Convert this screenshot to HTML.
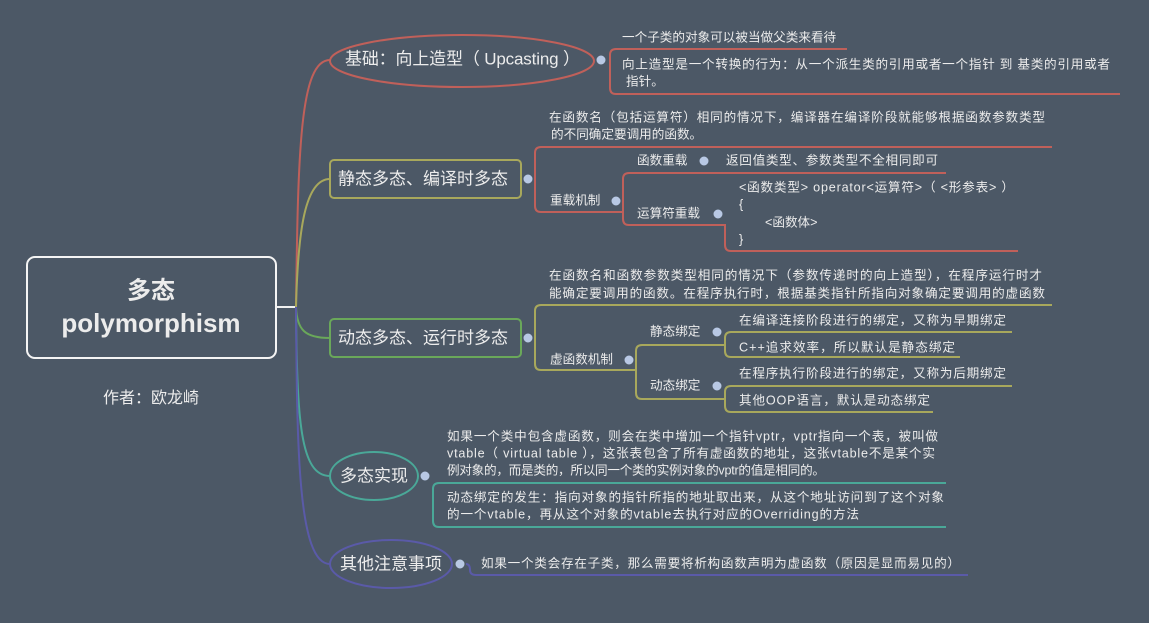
<!DOCTYPE html>
<html><head><meta charset="utf-8"><style>
html,body{margin:0;padding:0;background:#4c5866;}
svg{display:block}
text{font-family:"Liberation Sans","Noto Sans CJK SC",sans-serif;fill:#ececec;dominant-baseline:middle}
.s{font-size:12.6px}
.b{font-size:17px}
</style></head><body>
<svg width="1149" height="623" viewBox="0 0 1149 623" xmlns="http://www.w3.org/2000/svg">
<rect width="1149" height="623" fill="#4c5866"/>
<g fill="none" stroke-width="2">
<path d="M276,307 H296" stroke="#f0f0f0"/>
<path d="M296,307 C298,150 300,60 330,60" stroke="#c0605a"/>
<path d="M296,307 C298,230 305,179 330,179" stroke="#a8a85c"/>
<path d="M296,307 C297,330 305,338 330,338" stroke="#6aa85a"/>
<path d="M296,307 C297,420 300,476 330,476" stroke="#4aa898"/>
<path d="M296,307 C297,450 298,564 330,564" stroke="#5a5aa8"/>
<ellipse cx="462" cy="61" rx="132" ry="26" stroke="#c0605a"/>
<path d="M847,49 H616 Q610,49 610,55 V88 Q610,94 616,94 H1120" stroke="#c0605a"/>
<rect x="330" y="160" width="191" height="38" rx="4" stroke="#a8a85c"/>
<path d="M1052,147 H541 Q535,147 535,153 V206 Q535,212 541,212 H623" stroke="#c0605a"/>
<path d="M946,173 H629 Q623,173 623,179 V219 Q623,225 629,225 H725 V245 Q725,251 731,251 H1018" stroke="#c0605a"/>
<rect x="330" y="319" width="191" height="38" rx="4" stroke="#6aa85a"/>
<path d="M1052,305 H541 Q535,305 535,311 V364 Q535,370 541,370 H636" stroke="#a8a85c"/>
<path d="M725,345 H642 Q636,345 636,351 V393 Q636,399 642,399 H725" stroke="#a8a85c"/>
<path d="M1012,332 H731 Q725,332 725,338 V351 Q725,357 731,357 H960" stroke="#a8a85c"/>
<path d="M1012,386 H731 Q725,386 725,392 V406 Q725,412 731,412 H933" stroke="#a8a85c"/>
<ellipse cx="374" cy="476" rx="44" ry="24" stroke="#4aa898"/>
<path d="M946,483 H439 Q433,483 433,489 V521 Q433,527 439,527 H946" stroke="#4aa898"/>
<ellipse cx="391" cy="564" rx="61" ry="24" stroke="#5a5aa8"/>
<path d="M466,564 Q470,564 470,570 Q470,575 476,575 H968" stroke="#5a5aa8"/>
</g>
<rect x="27" y="257" width="249" height="101" rx="8" fill="#4c5866" stroke="#f4f4f4" stroke-width="2"/>
<text x="151" y="292" text-anchor="middle" style="font-size:24px;font-weight:bold">多态</text>
<text x="151" y="325" text-anchor="middle" style="font-size:26px;font-weight:bold">polymorphism</text>
<text x="151" y="399" text-anchor="middle" style="font-size:16px">作者：欧龙崎</text>
<g fill="#b8c8e4" stroke="#4c5866" stroke-width="1">
<circle cx="601" cy="60" r="5"/><circle cx="528" cy="179" r="5"/><circle cx="616" cy="201" r="5"/>
<circle cx="704" cy="161" r="5"/><circle cx="718" cy="214" r="5"/><circle cx="528" cy="338" r="5"/>
<circle cx="629" cy="360" r="5"/><circle cx="717" cy="332" r="5"/><circle cx="717" cy="386" r="5"/>
<circle cx="425" cy="476" r="5"/><circle cx="460" cy="564" r="5"/>
</g>
<text class="b" x="345" y="60" textLength="235" lengthAdjust="spacing">基础：向上造型（ Upcasting ）</text>
<text class="b" x="338" y="180">静态多态、编译时多态</text>
<text class="b" x="338" y="339">动态多态、运行时多态</text>
<text class="b" x="340" y="477">多态实现</text>
<text class="b" x="340" y="565">其他注意事项</text>
<text class="s" x="622" y="38">一个子类的对象可以被当做父类来看待</text>
<text class="s" x="622" y="65" textLength="488" lengthAdjust="spacing">向上造型是一个转换的行为：从一个派生类的引用或者一个指针 到 基类的引用或者</text>
<text class="s" x="626" y="82">指针。</text>
<text class="s" x="549" y="118" textLength="496" lengthAdjust="spacing">在函数名（包括运算符）相同的情况下，编译器在编译阶段就能够根据函数参数类型</text>
<text class="s" x="551" y="135">的不同确定要调用的函数。</text>
<text class="s" x="550" y="201">重载机制</text>
<text class="s" x="637" y="161">函数重载</text>
<text class="s" x="726" y="161" textLength="212" lengthAdjust="spacing">返回值类型、参数类型不全相同即可</text>
<text class="s" x="637" y="214">运算符重载</text>
<text class="s" x="739" y="188" textLength="275" lengthAdjust="spacing">&lt;函数类型&gt; operator&lt;运算符&gt;（ &lt;形参表&gt; ）</text>
<text class="s" x="739" y="205">{</text>
<text class="s" x="765" y="223">&lt;函数体&gt;</text>
<text class="s" x="739" y="240">}</text>
<text class="s" x="549" y="276" textLength="493" lengthAdjust="spacing">在函数名和函数参数类型相同的情况下（参数传递时的向上造型），在程序运行时才</text>
<text class="s" x="549" y="294" textLength="496" lengthAdjust="spacing">能确定要调用的函数。在程序执行时，根据基类指针所指向对象确定要调用的虚函数</text>
<text class="s" x="550" y="360">虚函数机制</text>
<text class="s" x="650" y="332">静态绑定</text>
<text class="s" x="650" y="386">动态绑定</text>
<text class="s" x="739" y="321" textLength="267" lengthAdjust="spacing">在编译连接阶段进行的绑定，又称为早期绑定</text>
<text class="s" x="739" y="348" textLength="216" lengthAdjust="spacing">C++追求效率，所以默认是静态绑定</text>
<text class="s" x="739" y="374" textLength="267" lengthAdjust="spacing">在程序执行阶段进行的绑定，又称为后期绑定</text>
<text class="s" x="739" y="401" textLength="191" lengthAdjust="spacing">其他OOP语言，默认是动态绑定</text>
<text class="s" x="447" y="437" textLength="491" lengthAdjust="spacing">如果一个类中包含虚函数，则会在类中增加一个指针vptr，vptr指向一个表，被叫做</text>
<text class="s" x="447" y="454" textLength="488" lengthAdjust="spacing">vtable（ virtual table ），这张表包含了所有虚函数的地址，这张vtable不是某个实</text>
<text class="s" x="447" y="471" textLength="378" lengthAdjust="spacing">例对象的，而是类的，所以同一个类的实例对象的vptr的值是相同的。</text>
<text class="s" x="447" y="498" textLength="497" lengthAdjust="spacing">动态绑定的发生：指向对象的指针所指的地址取出来，从这个地址访问到了这个对象</text>
<text class="s" x="447" y="515" textLength="412" lengthAdjust="spacing">的一个vtable，再从这个对象的vtable去执行对应的Overriding的方法</text>
<text class="s" x="481" y="564" textLength="479" lengthAdjust="spacing">如果一个类会存在子类，那么需要将析构函数声明为虚函数（原因是显而易见的）</text>
</svg>
</body></html>
